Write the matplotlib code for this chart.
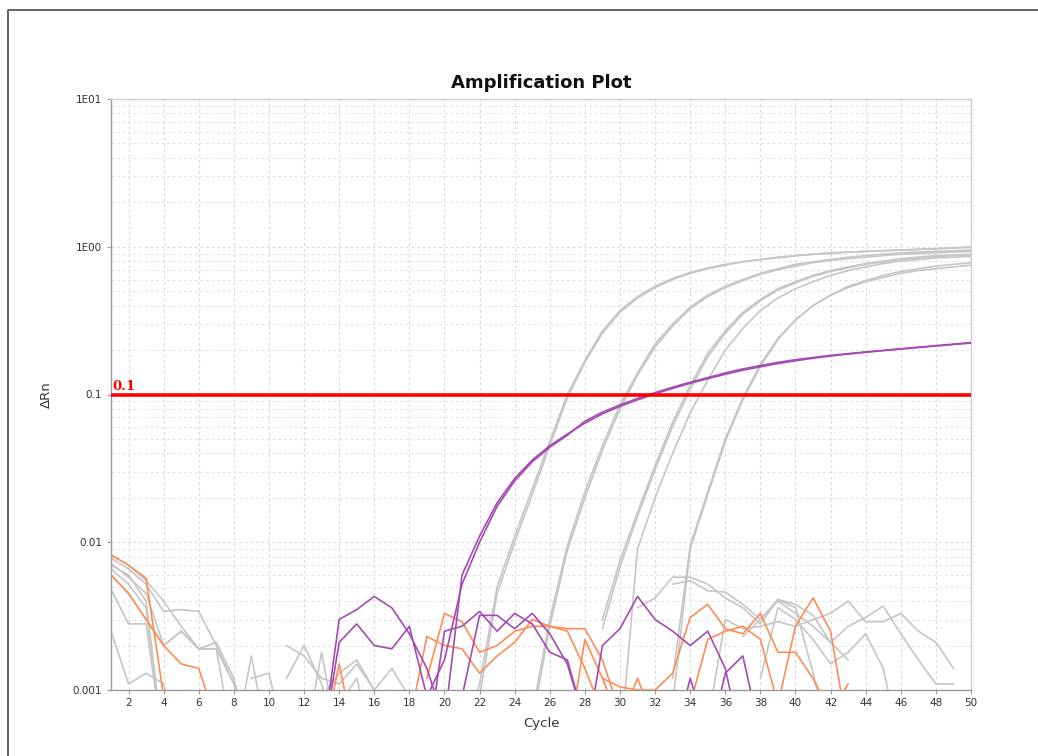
import matplotlib
matplotlib.use("Agg")
import numpy as np
from matplotlib import pyplot as plt
from matplotlib.lines import Line2D
from matplotlib.ticker import FixedLocator, FixedFormatter, LogLocator, NullFormatter

# each trace is a list of (first_cycle, values) pieces; gaps = negative dRn dropped on log axis
gray_traces = [
    [(1, [0.0078, 0.0066, 0.0052, 0.0034, 0.0035, 0.0034, 0.0020, 0.0011, 0.0004]),
     (21, [0.0004, 0.0011, 0.0050, 0.011, 0.023, 0.048, 0.10, 0.17, 0.27, 0.37, 0.46, 0.54, 0.61, 0.67,
           0.72, 0.76, 0.79, 0.82, 0.85, 0.87, 0.89, 0.91, 0.92, 0.93, 0.94, 0.95, 0.96, 0.97, 0.98, 1.0])],
    [(1, [0.0082, 0.0070, 0.0055, 0.0040, 0.0027, 0.0019, 0.0019, 0.0011, 0.0004]),
     (21, [0.0004, 0.0009, 0.0045, 0.0100, 0.021, 0.045, 0.095, 0.165, 0.26, 0.36, 0.45, 0.53, 0.60, 0.66,
           0.71, 0.75, 0.79, 0.82, 0.84, 0.87, 0.89, 0.90, 0.92, 0.93, 0.94, 0.95, 0.96, 0.97, 0.98, 0.99])],
    [(1, [0.0070, 0.0060, 0.0040, 0.0004]),
     (25, [0.0007, 0.0030, 0.0095, 0.022, 0.045, 0.085, 0.14, 0.22, 0.30, 0.39, 0.47, 0.54, 0.60, 0.66,
           0.71, 0.76, 0.79, 0.82, 0.85, 0.87, 0.89, 0.91, 0.92, 0.93, 0.94, 0.95])],
    [(1, [0.0066, 0.0052, 0.0036, 0.0004]),
     (25, [0.0006, 0.0027, 0.0088, 0.020, 0.042, 0.080, 0.135, 0.21, 0.29, 0.38, 0.46, 0.53, 0.59, 0.65,
           0.70, 0.74, 0.78, 0.81, 0.83, 0.85, 0.87, 0.89, 0.90, 0.91, 0.92, 0.93])],
    [(1, [0.0060, 0.0045, 0.0030, 0.0020, 0.0025, 0.0019, 0.0019, 0.0004]),
     (29, [0.0030, 0.0075, 0.016, 0.033, 0.065, 0.115, 0.19, 0.27, 0.36, 0.44, 0.52, 0.58, 0.64, 0.69,
           0.73, 0.77, 0.80, 0.83, 0.85, 0.87, 0.88, 0.89])],
    [(29, [0.0026, 0.0068, 0.015, 0.031, 0.061, 0.108, 0.18, 0.26, 0.35, 0.43, 0.51, 0.57, 0.63, 0.68,
           0.72, 0.76, 0.79, 0.82, 0.84, 0.86, 0.87, 0.88])],
    [(30, [0.0004, 0.009, 0.020, 0.040, 0.075, 0.125, 0.20, 0.28, 0.37, 0.45, 0.52, 0.58, 0.64, 0.69,
           0.73, 0.77, 0.80, 0.82, 0.84, 0.85, 0.86])],
    [(1, [0.0025, 0.0011, 0.0013, 0.0011, 0.0004]),
     (33, [0.0012, 0.0095, 0.022, 0.050, 0.095, 0.16, 0.24, 0.32, 0.40, 0.47, 0.53, 0.58, 0.62, 0.66,
           0.69, 0.71, 0.73, 0.75])],
    [(33, [0.0008, 0.0090, 0.021, 0.048, 0.092, 0.155, 0.235, 0.32, 0.40, 0.47, 0.54, 0.59, 0.64, 0.68,
           0.71, 0.74, 0.76, 0.78])],
    # no amplification
    [(1, [0.0048, 0.0028, 0.0028, 0.0004]),
     (31, [0.0036, 0.0042, 0.0058, 0.0058, 0.0052, 0.0042, 0.0036, 0.0028, 0.0041, 0.0038, 0.0032,
           0.0021, 0.0016])],
    [(1, [0.0072, 0.0058, 0.0045, 0.0020, 0.0025, 0.0019, 0.0021, 0.0012, 0.0004]),
     (33, [0.0052, 0.0055, 0.0047, 0.0046, 0.0038, 0.0030, 0.0041, 0.0036, 0.0013, 0.0004])],
    [(35, [0.0006, 0.0030, 0.0026, 0.0027, 0.0029, 0.0027, 0.0030, 0.0033, 0.0040, 0.0029, 0.0029,
           0.0033, 0.0025, 0.0021, 0.0014])],
    [(37, [0.0023, 0.0030, 0.0040, 0.0033, 0.0027, 0.0021, 0.0027, 0.0031, 0.0037, 0.0024, 0.0016,
           0.0011, 0.0011])],
    [(38, [0.0012, 0.0036, 0.0030, 0.0022, 0.0015, 0.0018, 0.0024, 0.0014, 0.0004])],
    [(8, [0.0004, 0.0017, 0.0004]), (9, [0.0012, 0.0013, 0.0004])],
    [(11, [0.0020, 0.0017, 0.0012, 0.0011, 0.0015, 0.0010, 0.0004])],
    [(11, [0.0012, 0.0020, 0.0011, 0.0004]), (12, [0.0004, 0.0018, 0.0004])],
    [(13, [0.0009, 0.0013, 0.0016, 0.0010, 0.0014, 0.0009, 0.0004])],
    [(14, [0.0008, 0.0012, 0.0004])],
]

purple_traces = [
    [(13, [0.0004, 0.0021, 0.0028, 0.0020, 0.0019, 0.0027, 0.0009, 0.0016, 0.0052, 0.0100, 0.0175,
           0.026, 0.035, 0.044, 0.053, 0.066, 0.076, 0.085, 0.094, 0.103, 0.112, 0.121, 0.130, 0.140,
           0.149, 0.157, 0.165, 0.172, 0.178, 0.184, 0.189, 0.194, 0.199, 0.204, 0.209, 0.214, 0.219,
           0.225])],
    [(13, [0.0004, 0.0030, 0.0035, 0.0043, 0.0036, 0.0024, 0.0014, 0.0006, 0.0060, 0.0110, 0.0185,
           0.027, 0.036, 0.045, 0.054, 0.064, 0.074, 0.083, 0.092, 0.101, 0.110, 0.119, 0.128, 0.137,
           0.146, 0.154, 0.162, 0.169, 0.176, 0.182, 0.188, 0.193, 0.198, 0.203, 0.208, 0.213, 0.218,
           0.223])],
    [(19, [0.0004, 0.0025, 0.0027, 0.0034, 0.0025, 0.0033, 0.0028, 0.0018, 0.0016, 0.0006])],
    [(21, [0.0009, 0.0032, 0.0032, 0.0026, 0.0033, 0.0024, 0.0015, 0.0006]),
     (28, [0.0004, 0.0020, 0.0026, 0.0043, 0.0030, 0.0025, 0.0020, 0.0025, 0.0014, 0.0004])],
    [(33, [0.0004, 0.0012, 0.0005]), (35, [0.0004, 0.0013, 0.0017, 0.0005])],
]

orange_traces = [
    [(1, [0.0082, 0.0070, 0.0057, 0.0009]), (13, [0.0004, 0.0015, 0.0004]),
     (27, [0.0004, 0.0022, 0.0012, 0.0006])],
    [(29, [0.0012, 0.00105, 0.0010, 0.0010, 0.0013, 0.0031, 0.0038, 0.0026, 0.0024, 0.0033, 0.0018,
           0.0018, 0.0012, 0.0007]),
     (30, [0.0006, 0.0012, 0.0006])],
    [(1, [0.0060, 0.0045, 0.0030, 0.0020, 0.0015, 0.0014, 0.0006]),
     (18, [0.0006, 0.0023, 0.0020, 0.0019, 0.0013, 0.0017, 0.0021, 0.0030, 0.0027, 0.0026, 0.0026,
           0.0016, 0.0007])],
    [(19, [0.0012, 0.0033, 0.0029, 0.0018, 0.0020, 0.0025, 0.0027, 0.0027, 0.0025, 0.0014, 0.0007])],
    [(34, [0.0008, 0.0022, 0.0025, 0.0027, 0.0022, 0.0008, 0.0027, 0.0042, 0.0025, 0.0005]),
     (42, [0.0007, 0.0011])],
]

threshold = 0.1
y_ticks = [0.001, 0.01, 0.1, 1.0, 10.0]
y_tick_labels = ["0.001", "0.01", "0.1", "1E00", "1E01"]
x_ticks = list(range(2, 51, 2))

W, H = 1038, 756
fig = plt.figure(figsize=(W / 100, H / 100), dpi=100)
fig.patch.set_facecolor("white")
ax = fig.add_axes([111 / W, 1 - 690 / H, (971 - 111) / W, (690 - 99) / H])

# outer frame (top + left edge only visible)
fig.add_artist(Line2D([8 / W, 8 / W, 1.0], [0.0, 1 - 10 / H, 1 - 10 / H],
                      transform=fig.transFigure, color="#555555", lw=1.3))


def draw(traces, color, lw=1.2, z=2):
    for trace in traces:
        for start, vals in trace:
            xs = np.arange(start, start + len(vals))
            ax.plot(xs, vals, color=color, lw=lw, zorder=z, solid_joinstyle="round")


draw(gray_traces, "#c6c6c6", z=2)
draw(orange_traces, "#ff8c55", z=3)
draw(purple_traces, "#a54ab5", z=4)

ax.axhline(threshold, color="#ff0000", lw=2.6, zorder=5)
ax.text(1.05, threshold * 1.02, "0.1", color="#ff0000", fontsize=9.5, fontweight="bold",
        family="DejaVu Serif", ha="left", va="bottom", zorder=6)

ax.set_yscale("log")
ax.set_xlim(1, 50)
ax.set_ylim(0.001, 10)
ax.yaxis.set_major_locator(FixedLocator(y_ticks))
ax.yaxis.set_major_formatter(FixedFormatter(y_tick_labels))
ax.yaxis.set_minor_locator(LogLocator(base=10, subs=np.arange(2, 10)))
ax.yaxis.set_minor_formatter(NullFormatter())
ax.set_xticks(x_ticks)

ax.grid(True, which="major", color="#d9d9d9", ls=(0, (2.5, 2.5)), lw=0.8)
ax.grid(True, which="minor", axis="y", color="#e2e2e2", ls=(0, (2.5, 2.5)), lw=0.8)
ax.set_axisbelow(True)

for side in ["top", "right"]:
    ax.spines[side].set_color("#cfcfcf")
ax.spines["left"].set_color("#9a9a9a")
ax.spines["bottom"].set_color("#9a9a9a")
for s in ax.spines.values():
    s.set_linewidth(1.0)

ax.tick_params(axis="both", which="major", labelsize=7.5, colors="#9a9a9a", labelcolor="#333333",
               length=3, width=0.8)
ax.tick_params(axis="y", which="minor", length=0)
ax.tick_params(axis="x", pad=3)

ax.set_xlabel("Cycle", fontsize=9.5, color="#333333", labelpad=6)
ax.set_ylabel("\u0394Rn", fontsize=9.5, color="#333333", labelpad=14)
fig.text((111 + 971) / 2 / W, 1 - 83 / H, "Amplification Plot", ha="center", va="center",
         fontsize=13, fontweight="bold", color="#111111")

fig.savefig("out.png", dpi=100)
